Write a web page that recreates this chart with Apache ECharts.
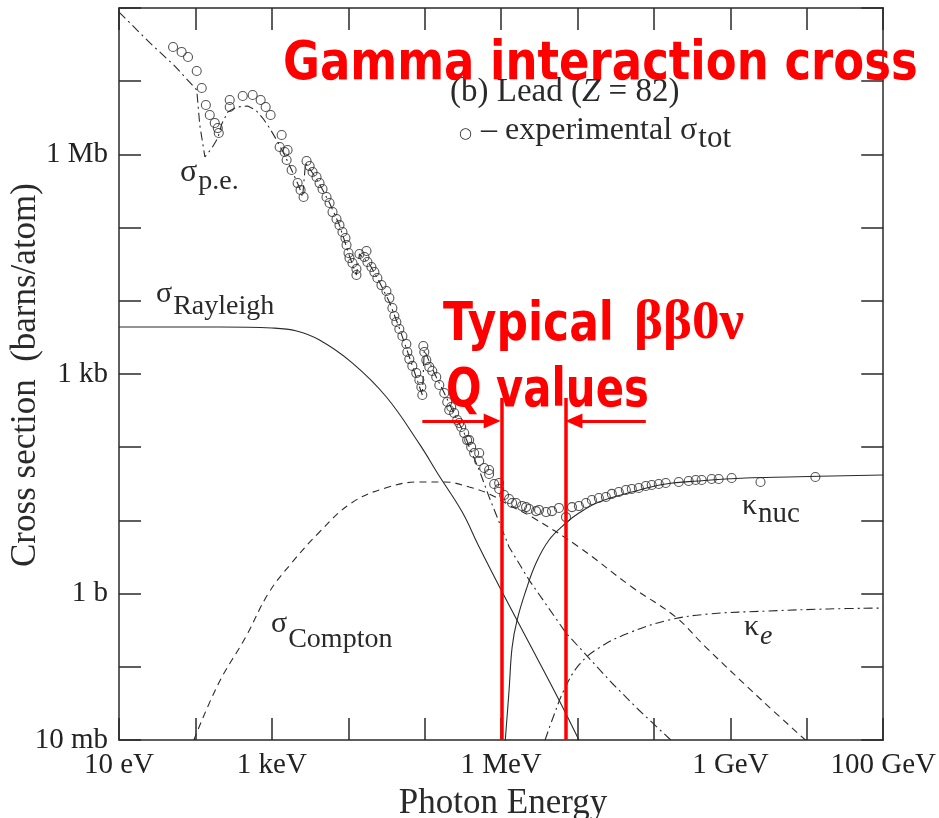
<!DOCTYPE html>
<html>
<head>
<meta charset="utf-8">
<title>Photon cross sections in lead</title>
<script src="https://cdn.jsdelivr.net/npm/echarts@6.0.0/dist/echarts.min.js"></script>
<style>
  html, body { margin: 0; padding: 0; background: #ffffff; }
  #chart { width: 939px; height: 818px; }
</style>
</head>
<body>
<div id="chart"></div>
<script>
// Photon energy in eV, cross sections in barns per atom (lead, Z = 82).

// Measured total cross section (open circles)
const expEnergy = [51, 66, 80, 104, 121, 137, 154, 179, 196, 202,
  281, 281, 416, 561, 714, 830, 964, 1265, 1343, 1469,
  1560, 1607, 1815, 2173, 2377, 2600, 2844, 3119, 3412, 3846, 4207,
  4603, 5188, 5689, 6223, 7015, 7674, 8395, 9183, 9484, 10070,
  10370, 11350, 12790, 12790, 14000, 16290, 17300, 17820, 20090, 21980,
  24040, 27160, 31550, 34510, 37760, 40090, 42560, 46560, 51050, 57540,
  59290, 62950, 68870, 77620, 85110, 90360, 93110, 95940, 98850, 1.05e5,
  1.148e5, 1.256e5, 1.416e5, 1.552e5, 1.803e5, 1.972e5, 2.094e5, 2.223e5, 2.432e5, 2.667e5, 2.831e5, 3.006e5,
  3.289e5, 3.597e5, 3.82e5, 4.055e5, 4.436e5, 5.164e5, 5.164e5, 5.998e5, 6.966e5, 6.966e5, 8.109e5, 9.419e5, 9.419e5, 1.094e6,
  1.271e6, 1.393e6, 1.57e6, 1.879e6, 2.12e6, 2.323e6, 2.864e6, 3.133e6, 3.873e6, 4.634e6, 5.715e6, 7.063e6, 8.453e6,
  1.042e7, 1.288e7, 1.542e7, 1.901e7, 2.35e7, 2.812e7, 3.467e7, 4.285e7, 5.129e7, 6.339e7,
  7.816e7, 9.354e7, 1.156e8, 1.426e8, 2.109e8, 2.844e8, 3.516e8, 4.207e8, 5.689e8, 7.015e8,
  1.038e9, 2.477e9, 1.294e10];
const expSigma = [2.93e7, 2.51e7, 2.14e7, 1.38e7, 8.07e6, 4.73e6, 3.45e6, 2.69e6, 2.29e6, 1.96e6,
  5.53e6, 4.44e6, 6.28e6, 6.47e6, 5.53e6, 4.44e6, 3.45e6, 1.26e6, 1.84e6, 1.08e6,
  8.38e5, 1.15e6, 6.12e5, 4.06e5, 3.27e5, 2.62e5, 8.13e5, 6.93e5, 5.74e5, 4.91e5, 4.06e5,
  3.37e5, 2.62e5, 2.17e5, 1.63e5, 1.31e5, 1.08e5, 8.71e4, 7.21e4, 5.78e4, 4.50e4,
  3.85e4, 3.28e4, 2.72e4, 2.25e4, 4.36e4, 3.96e4, 4.79e4, 3.39e4, 2.90e4, 2.47e4,
  2.05e4, 1.64e4, 1.36e4, 1.09e4, 7.98e3, 6.19e3, 5.13e3, 4.12e3, 3.30e3, 2.57e3,
  2.00e3, 1.60e3, 1.29e3, 1.03e3, 828, 664, 516, 2.41e3, 2.00e3, 1.55e3,
  1.25e3, 1.10e3, 910, 708, 550, 414, 322, 354, 293, 235, 214, 189,
  156, 125, 125, 101, 83.4, 64.7, 83.4, 52.0, 43.1, 48.8, 31.4, 26.9, 32.4, 22.2,
  19.6, 17.3, 17.3, 15.7, 15.2, 14.3, 13.4, 13.9, 13.0, 13.4, 14.8, 11.1, 15.2,
  15.7, 17.3, 19.0, 20.2, 20.9, 23.0, 24.4, 26.0, 26.9, 27.7,
  29.5, 30.5, 31.4, 32.4, 33.5, 34.5, 35.6, 35.6, 36.8, 36.8,
  37.9, 33.5, 39.2];

// Atomic photoelectric effect
const peEnergy = [10, 25.4, 53.8, 104, 114, 133, 164, 196, 221, 265,
  347, 483, 615, 759, 935, 1156, 1469, 1815, 2307, 2523,
  2761, 3412, 4207, 5689, 7674, 10370, 12790, 14000, 18920, 25530,
  34510, 46560, 62950, 93110, 98850, 133400, 180300, 243200, 328900, 382000,
  516400, 696600, 1.271e6, 2.323e6, 7.063e6, 2.812e7, 6.339e7, 1.656e8];
const peSigma = [8.81e7, 3.33e7, 1.61e7, 7.59e6, 2.52e6, 9.21e5, 1.22e6, 1.67e6, 2.60e6, 3.79e6,
  4.44e6, 4.58e6, 4.04e6, 3.14e6, 2.29e6, 1.57e6, 9.82e5, 6.12e5, 3.48e5, 2.62e5,
  7.62e5, 5.57e5, 3.94e5, 2.17e5, 1.08e5, 4.09e4, 2.25e4, 4.36e4, 3.18e4, 1.81e4,
  9.64e3, 4.25e3, 1.71e3, 516, 2.13e3, 1.03e3, 550, 284, 156, 101,
  48.8, 20.9, 4.33, 1.53, 0.29, 0.0601, 0.0257, 0.01];

// Incoherent (Compton) scattering
const comptonEnergy = [95.3, 202, 455, 908, 1815, 4083, 11010, 30620, 85110, 180300,
  382000, 696600, 1.271e6, 2.541e6, 1.042e7, 5.129e7, 1.927e8, 4.745e8, 2.553e9, 9.59e9];
const comptonSigma = [0.01, 0.0601, 0.255, 1.02, 2.62, 6.73, 17.3, 27.7, 33.5, 33.5,
  28.6, 23.0, 16.2, 11.1, 4.33, 1.23, 0.479, 0.186, 0.0352, 0.01];

// Coherent (Rayleigh) scattering
const rayleighEnergy = [10, 208, 994, 2108, 4207, 11350, 31550, 85110, 155200, 309700,
  516400, 1.0e6, 2.323e6, 5.715e6, 1.042e7];
const rayleighSigma = [4390, 4390, 4250, 3870, 2910, 1410, 485, 111, 40.4, 13.0,
  4.33, 1.12, 0.211, 0.0352, 0.01];

// Pair production, nuclear field
const nucEnergy = [1.06e6, 1.271e6, 1.393e6, 1.618e6, 2.120e6, 2.864e6, 4.236e6, 7.063e6, 1.042e7, 1.901e7,
  5.129e7, 1.426e8, 3.846e8, 1.578e9, 5.754e9, 1e11];
const nucSigma = [0.004, 0.0482, 0.186, 0.435, 1.12, 2.62, 5.40, 9.21, 12.6, 17.8,
  24.4, 31.4, 34.5, 37.9, 39.2, 41.7];

// Pair production, electron field
const elecEnergy = [3.758e6, 4.920e6, 6.652e6, 1.042e7, 1.901e7, 4.688e7, 1.560e8, 5.188e8, 3.155e9, 1.914e10, 1e11];
const elecSigma = [0.01, 0.022, 0.0482, 0.106, 0.181, 0.290, 0.435, 0.526, 0.578, 0.617, 0.635];

// Band of typical double-beta Q values, and where its markers sit
const qBandEnergy = [1.03e6, 7.06e6];
const qBandTop = 470;
const arrowSigma = 228;
const arrowLeft = [93100, 7.64e5];
const arrowRight = [7.82e7, 8.97e6];

// Axis tick labels
const xTickValues = [10, 1e3, 1e6, 1e9, 1e11];
const xTickText = ['10 eV', '1 keV', '1 MeV', '1 GeV', '100 GeV'];
const yTickValues = [0.01, 1, 1e3, 1e6];
const yTickText = ['10 mb', '1 b', '1 kb', '1 Mb'];

const INK = '#2a2a2a';
const RED = '#ff0000';
const SERIF = '"Liberation Serif", "Times New Roman", serif';
const SANS_BOLD = 'bold 44px "DejaVu Sans", sans-serif';
const TITLE_BOLD = 'bold 45px "DejaVu Sans", sans-serif';

const zip = (xs, ys) => xs.map((x, i) => [x, ys[i]]);
const pickLabel = (values, texts) => (v) => {
  const i = values.findIndex(t => Math.abs(Math.log10(t) - Math.log10(v)) < 1e-6);
  return i >= 0 ? texts[i] : '';
};

function logAxis(extra) {
  return Object.assign({
    type: 'log',
    logBase: 10,
    interval: 1,
    axisLine: { show: true, onZero: false, lineStyle: { color: INK, width: 1.5 } },
    axisTick: { show: true, inside: true, length: 22, interval: 0, lineStyle: { color: INK, width: 1.5 } },
    minorTick: { show: false },
    splitLine: { show: false },
    axisLabel: { show: false }
  }, extra);
}

const tickFont = { fontFamily: SERIF, fontSize: 29, color: '#222' };

// plain text element; opts may carry fill, align, scaleX/scaleY, rotation
function txt(str, x, y, font, opts) {
  opts = opts || {};
  const align = opts.align || 'left';
  const el = {
    type: 'text', x: x, y: y, z: 100, silent: true,
    style: {
      text: str, font: font, fill: opts.fill || INK,
      align: align, verticalAlign: 'middle',
      textAlign: align, textVerticalAlign: 'middle'
    }
  };
  ['scaleX', 'scaleY', 'rotation'].forEach(k => { if (opts[k] != null) el[k] = opts[k]; });
  if (opts.rich) el.style.rich = opts.rich;
  return el;
}

const measureCtx = document.createElement('canvas').getContext('2d');
function textWidth(str, font) { measureCtx.font = font; return measureCtx.measureText(str).width; }

// symbol followed by a lowered subscript
function withSub(main, mainFont, subStr, subFont, x, yMain, ySub, opts) {
  const w = textWidth(main, mainFont);
  return [txt(main, x, yMain, mainFont, opts), txt(subStr, x + w + 1, ySub, subFont, opts)];
}

const chart = echarts.init(document.getElementById('chart'), null, { renderer: 'canvas' });

const captionFont = '33px ' + SERIF;

chart.setOption({
  backgroundColor: '#ffffff',
  animation: false,
  grid: { left: 119, top: 8, width: 766, height: 732 },
  xAxis: [
    logAxis({
      min: 10, max: 1e11, position: 'bottom',
      axisLabel: Object.assign({
        show: true, margin: 11, interval: 0, hideOverlap: false,
        showMinLabel: true, showMaxLabel: true,
        formatter: pickLabel(xTickValues, xTickText)
      }, tickFont)
    }),
    logAxis({ min: 10, max: 1e11, position: 'top' })
  ],
  yAxis: [
    logAxis({
      min: 0.01, max: 1e8, position: 'left',
      axisLabel: Object.assign({
        show: true, margin: 11, interval: 0, hideOverlap: false,
        showMinLabel: true, showMaxLabel: true,
        formatter: pickLabel(yTickValues, yTickText)
      }, tickFont)
    }),
    logAxis({ min: 0.01, max: 1e8, position: 'right' })
  ],
  series: [
    {
      name: 'photoelectric', type: 'line', data: zip(peEnergy, peSigma),
      showSymbol: false, smooth: false, z: 2,
      lineStyle: { color: INK, width: 1.1, type: [9, 4, 2, 4] }
    },
    {
      name: 'Compton', type: 'line', data: zip(comptonEnergy, comptonSigma),
      showSymbol: false, smooth: 0.4, z: 2,
      lineStyle: { color: INK, width: 1.1, type: [7, 5] }
    },
    {
      name: 'Rayleigh', type: 'line', data: zip(rayleighEnergy, rayleighSigma),
      showSymbol: false, smooth: 0.4, z: 2,
      lineStyle: { color: INK, width: 1.1, type: 'solid' }
    },
    {
      name: 'pair, nuclear', type: 'line', data: zip(nucEnergy, nucSigma),
      showSymbol: false, smooth: 0.4, z: 2,
      lineStyle: { color: INK, width: 1.1, type: 'solid' }
    },
    {
      name: 'pair, electron', type: 'line', data: zip(elecEnergy, elecSigma),
      showSymbol: false, smooth: 0.4, z: 2,
      lineStyle: { color: INK, width: 1.1, type: [9, 4, 2, 4] }
    },
    {
      name: 'measured total', type: 'scatter', data: zip(expEnergy, expSigma),
      symbol: 'circle', symbolSize: 9, z: 3,
      itemStyle: { color: 'rgba(0,0,0,0)', borderColor: INK, borderWidth: 1.1 }
    },
    {
      name: 'Q band', type: 'line', data: [], z: 5,
      markLine: {
        silent: true, animation: false,
        symbol: ['none', 'none'],
        label: { show: false },
        lineStyle: { color: RED, width: 3.5, type: 'solid' },
        data: qBandEnergy.map(e => [{ coord: [e, qBandTop] }, { coord: [e, 0.01] }])
      }
    },
    {
      name: 'Q arrows', type: 'line', data: [], z: 5,
      markLine: {
        silent: true, animation: false,
        symbol: ['none', 'triangle'], symbolSize: [15, 17],
        label: { show: false },
        lineStyle: { color: RED, width: 3, type: 'solid' },
        itemStyle: { color: RED },
        data: [
          [{ coord: [arrowLeft[0], arrowSigma] }, { coord: [arrowLeft[1], arrowSigma] }],
          [{ coord: [arrowRight[0], arrowSigma] }, { coord: [arrowRight[1], arrowSigma] }]
        ]
      }
    }
  ],
  graphic: [].concat(
    // axis titles
    txt('Photon Energy', 503, 804, '35px ' + SERIF, { align: 'center' }),
    txt('Cross section  (barns/atom)', 26, 375, '35px ' + SERIF, { align: 'center', rotation: Math.PI / 2 }),
    // curve labels
    withSub('σ', '32px ' + SERIF, 'p.e.', '28px ' + SERIF, 180, 173, 182),
    withSub('σ', '30px ' + SERIF, 'Rayleigh', '28px ' + SERIF, 156, 294, 307),
    withSub('σ', '30px ' + SERIF, 'Compton', '28px ' + SERIF, 271, 624, 640),
    withSub('κ', '30px ' + SERIF, 'nuc', '29px ' + SERIF, 742, 506, 514),
    withSub('κ', '30px ' + SERIF, 'e', 'italic 28px ' + SERIF, 744, 627, 637),
    // panel caption
    txt('{n|(b) Lead (}{i|Z}{n| = 82)}', 450, 92, captionFont, {
      rich: {
        n: { font: captionFont, fill: INK },
        i: { font: 'italic ' + captionFont, fill: INK }
      }
    }),
    txt('○', 459, 134, '15px "DejaVu Sans", sans-serif'),
    withSub('– experimental σ', '32px ' + SERIF, 'tot', '31px ' + SERIF, 481, 131, 139),
    // red annotations
    txt('Gamma interaction cross', 283, 65, TITLE_BOLD, { fill: RED, scaleY: 1.18 }),
    txt('Typical', 443, 326, SANS_BOLD, { fill: RED, scaleY: 1.2 }),
    txt('ββ0ν', 634, 324, 'bold 55px ' + SERIF, { fill: RED }),
    txt('Q values', 446, 392, SANS_BOLD, { fill: RED, scaleY: 1.2, scaleX: 0.95 })
  )
});
</script>
</body>
</html>
